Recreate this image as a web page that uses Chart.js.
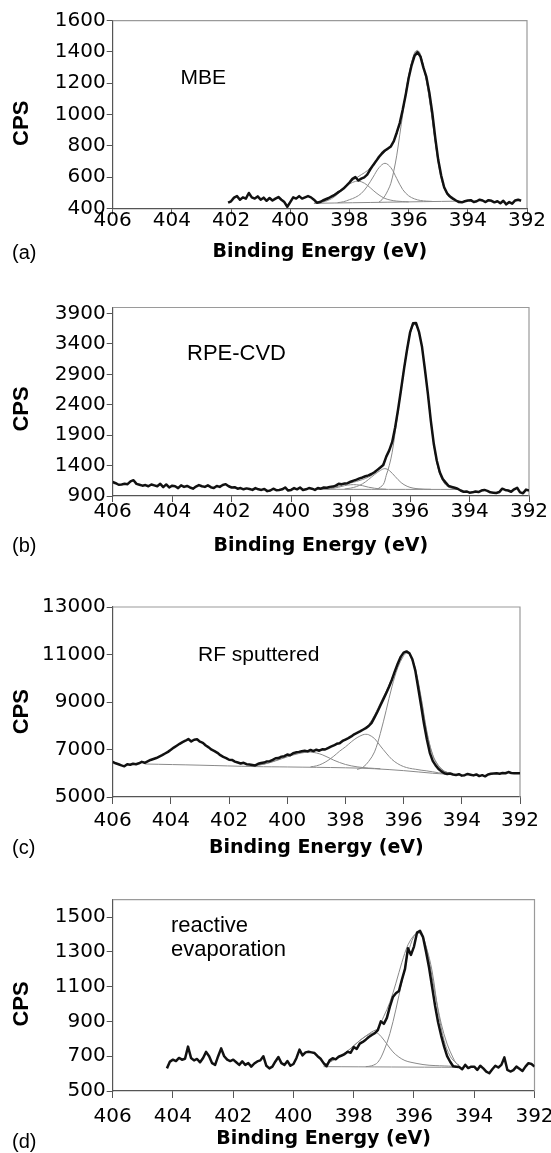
<!DOCTYPE html>
<html><head><meta charset="utf-8">
<script src="https://cdn.jsdelivr.net/npm/chart.js@4/dist/chart.umd.min.js"></script>
<style>
html,body{margin:0;padding:0;background:#fff;}
#wrap{position:relative;width:551px;height:1153px;overflow:hidden;background:#fff;}
canvas{position:absolute;left:0;}
</style></head><body><div id="wrap">
<canvas id="ca" width="551" height="280" style="top:0px"></canvas>
<canvas id="cb" width="551" height="290" style="top:280px"></canvas>
<canvas id="cc" width="551" height="292" style="top:570px"></canvas>
<canvas id="cd" width="551" height="291" style="top:862px"></canvas>
</div>
<script>
// ---------- tick labels ----------
const xTicks = [406,404,402,400,398,396,394,392];
const aTicks = [400,600,800,1000,1200,1400,1600];
const bTicks = [900,1400,1900,2400,2900,3400,3900];
const cTicks = [5000,7000,9000,11000,13000];
const dTicks = [500,700,900,1100,1300,1500];

// ---------- (a) MBE ----------
const aE = [402.1,402.0,401.9,401.8,401.7,401.6,401.5,401.4,401.3,401.2,401.1,401.0,400.9,400.8,400.7,400.6,400.5,400.4,400.3,400.2,400.1,400.0,
399.9,399.8,399.7,399.6,399.5,399.4,399.3,399.2,399.1,399.0,398.9,398.8,398.7,398.6,398.5,398.4,398.3,398.2,398.1,398.0,
397.9,397.8,397.7,397.6,397.5,397.4,397.3,397.2,397.1,397.0,396.9,396.8,396.7,396.6,396.5,396.4,396.3,396.2,396.1,396.0,
395.9,395.8,395.7,395.6,395.5,395.4,395.3,395.2,395.1,395.0,394.9,394.8,394.7,394.6,394.5,394.4,394.3,394.2,394.1,394.0,
393.9,393.8,393.7,393.6,393.5,393.4,393.3,393.2,393.1,393.0,392.9,392.8,392.7,392.6,392.5,392.4,392.3,392.2];
const aV = [436,445,468,478,455,470,462,498,470,462,476,455,468,448,466,450,462,472,455,440,410,440,
470,462,478,462,470,478,470,455,436,440,450,458,466,476,486,500,512,526,545,565,
588,600,578,590,598,615,648,676,702,730,752,770,782,796,830,885,945,1030,1125,1232,
1315,1375,1398,1370,1300,1240,1140,1010,850,710,610,535,496,475,462,450,440,438,445,450,
452,440,445,455,450,440,452,448,438,445,432,448,425,440,430,450,455,448];
const aBgE = [399.15,394.25];
const aBgV = [432,446];
const aP1E = [397.0,396.9,396.8,396.7,396.6,396.5,396.4,396.3,396.2,396.1,396.0,395.9,395.8,395.7,395.6,395.5,395.4,395.3,395.2,395.1,395.0,394.9,394.8,394.7,394.6,394.5,394.4,394.3];
const aP1V = [440,455,480,515,560,640,740,870,1000,1130,1240,1330,1390,1405,1378,1305,1215,1100,965,820,690,590,528,490,468,456,450,447];
const aP2E = [398.4,398.2,398.0,397.8,397.6,397.4,397.2,397.0,396.8,396.6,396.4,396.2,396.0,395.8,395.6,395.4,395.2];
const aP2V = [436,442,455,470,495,540,600,660,688,660,590,520,480,460,450,446,444];
const aP3E = [399.2,399.0,398.8,398.6,398.4,398.2,398.0,397.8,397.6,397.4,397.2,397.0,396.8,396.6,396.4,396.2,396.0];
const aP3V = [432,436,445,462,490,525,555,572,570,548,515,485,463,452,446,443,441];
const aEnvE = [399.2,399.0,398.8,398.6,398.4,398.2,398.0,397.8,397.6,397.4,397.2,397.0,396.8,396.6,396.4,396.2,396.0,395.8,395.7,395.6,395.4,395.2,395.0,394.8,394.6,394.4,394.3];
const aEnvV = [432,440,452,470,496,530,565,590,615,640,680,720,760,800,875,1030,1250,1395,1410,1385,1220,970,700,535,470,452,448];

// ---------- (b) RPE-CVD ----------
const bE = [406.0,405.9,405.8,405.7,405.6,405.5,405.4,405.3,405.2,405.1,405.0,404.9,404.8,404.7,404.6,404.5,404.4,404.3,404.2,404.1,
404.0,403.9,403.8,403.7,403.6,403.5,403.4,403.3,403.2,403.1,403.0,402.9,402.8,402.7,402.6,402.5,402.4,402.3,402.2,402.1,
402.0,401.9,401.8,401.7,401.6,401.5,401.4,401.3,401.2,401.1,401.0,400.9,400.8,400.7,400.6,400.5,400.4,400.3,400.2,400.1,
400.0,399.9,399.8,399.7,399.6,399.5,399.4,399.3,399.2,399.1,399.0,398.9,398.8,398.7,398.6,398.5,398.4,398.3,398.2,398.1,
398.0,397.9,397.8,397.7,397.6,397.5,397.4,397.3,397.2,397.1,397.0,396.9,396.8,396.7,396.6,396.5,396.4,396.3,396.2,396.1,
396.0,395.9,395.8,395.7,395.6,395.5,395.4,395.3,395.2,395.1,395.0,394.9,394.8,394.7,394.6,394.5,394.4,394.3,394.2,394.1,
394.0,393.9,393.8,393.7,393.6,393.5,393.4,393.3,393.2,393.1,393.0,392.9,392.8,392.7,392.6,392.5,392.4,392.3,392.2,392.1,392.0];
const bV = [1130,1110,1085,1090,1100,1095,1140,1160,1100,1085,1070,1080,1060,1090,1075,1060,1100,1045,1090,1040,
1070,1060,1030,1075,1050,1065,1040,1020,1055,1080,1060,1050,1075,1045,1030,1065,1050,1080,1095,1060,
1040,1045,1020,1030,1010,1025,1015,1000,1030,1010,1000,1015,980,990,1020,995,1000,1010,1040,990,
1000,1030,1010,1040,1000,1010,1030,1020,1000,1030,1020,1040,1035,1050,1055,1070,1100,1095,1105,1110,
1135,1152,1170,1190,1205,1225,1240,1262,1290,1330,1370,1410,1547,1650,1790,2030,2330,2660,3000,3310,
3590,3740,3745,3600,3360,2980,2580,2130,1750,1480,1290,1180,1120,1065,1050,1035,1020,990,970,975,
955,960,975,965,990,1000,985,960,955,950,965,1020,1000,990,970,1010,1035,960,945,1005,990];
const bBgE = [399.1,394.35];
const bBgV = [1010,1008];
const bP1E = [397.1,396.9,396.8,396.7,396.6,396.5,396.4,396.3,396.2,396.1,396.0,395.9,395.85,395.8,395.7,395.6,395.5,395.4,395.3,395.2,395.1,395.0,394.9,394.8,394.7,394.6,394.5,394.4];
const bP1V = [1012,1090,1240,1400,1620,1950,2300,2650,3000,3310,3560,3700,3720,3710,3590,3350,2980,2560,2120,1740,1450,1260,1150,1080,1045,1025,1015,1010];
const bP2E = [398.2,398.0,397.8,397.6,397.4,397.2,397.0,396.85,396.7,396.5,396.3,396.1,395.9,395.7,395.5,395.3];
const bP2V = [1015,1030,1055,1100,1170,1250,1320,1350,1320,1220,1120,1060,1030,1018,1012,1010];
const bP3E = [398.8,398.6,398.4,398.2,398.0,397.8,397.6,397.4,397.2,397.0,396.8];
const bP3V = [1012,1025,1045,1070,1085,1085,1070,1045,1028,1016,1011];
const bEnvE = [399.1,398.8,398.6,398.4,398.2,398.0,397.8,397.6,397.4,397.2,397.0,396.8,396.6,396.4,396.2,396.0,395.85,395.7,395.5,395.3,395.1,394.9,394.7,394.5,394.35];
const bEnvV = [1012,1020,1035,1060,1090,1115,1140,1170,1210,1270,1360,1540,1800,2320,3020,3580,3725,3600,2990,2130,1460,1160,1055,1020,1010];

// ---------- (c) RF sputtered ----------
const cE = bE;
const cV = [6480,6420,6380,6330,6290,6380,6360,6400,6380,6420,6480,6440,6500,6560,6600,6640,6700,6760,6830,6900,
6990,7080,7160,7240,7310,7370,7440,7340,7410,7430,7330,7280,7170,7090,6990,6930,6860,6760,6690,6640,
6570,6560,6490,6450,6410,6440,6380,6370,6350,6330,6400,6430,6450,6500,6510,6560,6630,6640,6700,6720,
6790,6760,6840,6880,6900,6930,6950,6920,6980,6930,6990,6950,7010,7000,7060,7120,7170,7240,7260,7360,
7420,7480,7550,7640,7700,7760,7830,7900,7990,8120,8350,8590,8850,9110,9370,9640,9950,10300,10620,10900,
11080,11130,11050,10800,10330,9600,8850,8080,7420,6860,6520,6330,6180,6080,6000,5970,5990,5950,5930,5960,
5900,5920,5970,5940,5910,5950,5880,5920,5870,5950,5980,5990,6000,5980,6010,6000,6050,6010,6000,6005,6000];
const cBgE = [404.9,403.0,401.1,400.0,398.0,397.0,396.0,395.0,394.55];
const cBgV = [6390,6340,6280,6265,6230,6190,6110,6000,5965];
const cP1E = [397.6,397.4,397.2,397.0,396.8,396.6,396.4,396.2,396.0,395.9,395.8,395.6,395.4,395.2,395.0,394.8,394.6,394.4,394.3];
const cP1V = [6160,6250,6500,6900,7680,8650,9650,10450,10950,11050,11000,10350,9150,7700,6750,6300,6080,5995,5985];
const cP2E = [399.2,399.0,398.8,398.6,398.4,398.2,398.0,397.8,397.6,397.4,397.3,397.2,397.0,396.8,396.6,396.4,396.2,396.0,395.8,395.6,395.4,395.2,395.0,394.8,394.6];
const cP2V = [6270,6310,6400,6540,6720,6930,7110,7320,7500,7620,7640,7620,7460,7150,6850,6580,6400,6280,6210,6170,6130,6100,6060,6020,5990];
const cP3E = [401.2,400.8,400.4,400.0,399.6,399.2,398.8,398.4,398.0,397.6,397.2,396.8];
const cP3V = [6310,6380,6520,6690,6830,6890,6780,6550,6370,6270,6220,6190];
const cEnvE = [401.2,400.8,400.4,400.0,399.6,399.2,398.8,398.4,398.0,397.6,397.2,396.8,396.4,396.1,395.95,395.8,395.6,395.4,395.2,395.0,394.8,394.6,394.4];
const cEnvV = [6310,6390,6540,6720,6860,6940,7000,7160,7400,7690,8050,8950,10000,10900,11080,11020,10420,9200,7750,6780,6320,6090,6000];

// ---------- (d) reactive evaporation ----------
const dE = bE.slice(18);
const dV = [630,669,680,672,690,680,685,755,690,676,684,665,690,725,700,660,650,700,745,700,
680,672,680,665,650,670,650,660,640,658,670,676,700,645,630,640,670,695,660,650,
672,645,655,690,738,705,722,726,722,718,700,685,660,642,676,688,682,697,704,712,
725,720,752,742,772,782,795,810,822,832,850,900,886,920,985,1040,1062,1075,1140,1200,
1320,1282,1330,1410,1420,1385,1300,1210,1100,990,895,820,755,700,668,642,640,638,625,650,
632,640,640,621,645,630,611,602,625,645,635,650,693,621,612,620,640,628,615,640,660,655,640];
const dBgE = [399.0,394.5];
const dBgV = [640,636];
const dP1E = [397.6,397.4,397.2,397.0,396.8,396.6,396.4,396.2,396.0,395.85,395.7,395.5,395.3,395.1,394.9,394.7,394.6,394.5];
const dP1V = [640,645,665,730,830,970,1130,1290,1390,1410,1390,1250,1060,890,770,690,660,645];
const dP2E = [399.0,398.8,398.6,398.4,398.2,398.0,397.8,397.6,397.4,397.25,397.1,396.9,396.7,396.5,396.3,396.1,395.9,395.7,395.5,395.3,395.0,394.7,394.5];
const dP2V = [650,665,685,705,730,760,790,815,832,835,815,770,725,695,675,665,658,652,648,646,644,642,641];
const dEnvE = [399.0,398.6,398.2,397.8,397.4,397.2,397.0,396.8,396.6,396.4,396.2,396.0,395.9,395.8,395.6,395.4,395.2,395.0,394.8,394.6,394.5];
const dEnvV = [650,685,730,790,840,860,930,1010,1120,1240,1340,1395,1405,1405,1330,1190,960,790,700,660,648];

// ---------- drawing ----------
const pts = (E, V) => E.map((e, i) => ({x: e, y: V[i]}));

const deco = {
  id: 'deco',
  beforeDatasetsDraw(chart) {
    const {ctx, chartArea: a} = chart;
    ctx.save();
    ctx.strokeStyle = '#9a9a9a'; ctx.lineWidth = 1.2;
    ctx.beginPath();
    ctx.moveTo(a.left, a.top); ctx.lineTo(a.right, a.top); ctx.lineTo(a.right, a.bottom);
    ctx.stroke();
    ctx.restore();
  },
  afterDraw(chart, args, o) {
    const ctx = chart.ctx;
    ctx.save();
    ctx.fillStyle = '#000';
    ctx.textAlign = 'left'; ctx.textBaseline = 'alphabetic';
    ctx.font = o.noteSize + 'px "Liberation Sans", Arial, sans-serif';
    o.note.forEach((t, i) => ctx.fillText(t, o.noteX, o.noteY + i * 24));
    ctx.font = '20px "Liberation Sans", Arial, sans-serif';
    ctx.textBaseline = 'middle';
    ctx.fillText(o.letter, 12, o.letterY);
    ctx.translate(22, o.cpsY); ctx.rotate(-Math.PI / 2);
    ctx.font = 'bold 22px "Liberation Sans", Arial, sans-serif';
    ctx.textAlign = 'center';
    ctx.fillText('CPS', 0, 0);
    ctx.restore();
  }
};

function panel(id, p) {
  const canvas = document.getElementById(id);
  const H = canvas.height;
  const ds = [{data: pts(p.E, p.V), borderColor: '#111', borderWidth: 2.5, pointRadius: 0, tension: 0, borderJoinStyle: 'round'}];
  p.fits.forEach(f => ds.push({data: pts(f[0], f[1]), borderColor: '#8a8a8a', borderWidth: 1, pointRadius: 0, tension: 0.35}));
  const tickFont = {family: '"DejaVu Sans", sans-serif', size: 20, lineHeight: 1.2};
  new Chart(canvas, {
    type: 'line',
    data: {datasets: ds},
    plugins: [deco],
    options: {
      responsive: false, animation: false, devicePixelRatio: 1,
      layout: {padding: {top: p.top, right: 551 - p.right, left: 0, bottom: 0}},
      plugins: {legend: {display: false}, tooltip: {enabled: false},
        deco: {note: p.note, noteX: p.noteX, noteY: p.noteY, noteSize: p.noteSize, letter: p.letter, letterY: p.letterY, cpsY: p.cpsY}},
      scales: {
        x: {
          type: 'linear', reverse: true, min: 392, max: 406,
          afterBuildTicks: s => { s.ticks = xTicks.map(v => ({value: v})); },
          afterFit: s => { s.height = H - p.bottom; s.paddingLeft = 0; s.paddingRight = 0; },
          ticks: {callback: v => String(v), font: tickFont, color: '#000', padding: p.xPad, maxRotation: 0, autoSkip: false},
          grid: {drawOnChartArea: false, drawTicks: true, tickLength: p.xTick, color: '#555', tickWidth: 1},
          border: {display: true, color: '#555', width: 1.2},
          title: {display: true, text: 'Binding Energy (eV)', color: '#000',
                  font: {family: '"DejaVu Sans", sans-serif', size: 19, weight: 'bold', lineHeight: 1.2},
                  padding: {top: 0, bottom: H - p.titleY - 11.4}}
        },
        y: {
          type: 'linear', min: p.min, max: p.max,
          afterBuildTicks: s => { s.ticks = p.ticks.map(v => ({value: v})); },
          afterFit: s => { s.width = 112.7; s.paddingTop = 0; s.paddingBottom = 0; },
          ticks: {callback: v => String(v), font: tickFont, color: '#000', padding: 1},
          grid: {drawOnChartArea: false, drawTicks: true, tickLength: 6, color: '#555', tickWidth: 1},
          border: {display: true, color: '#555', width: 1.2}
        }
      }
    }
  });
}

panel('ca', {E: aE, V: aV, fits: [[aBgE, aBgV], [aP3E, aP3V], [aP2E, aP2V], [aP1E, aP1V], [aEnvE, aEnvV]],
  min: 400, max: 1600, ticks: aTicks, top: 20.7, right: 527, bottom: 208.3, xPad: -5.6, xTick: 6, titleY: 252.5,
  note: ['MBE'], noteX: 180.6, noteY: 83.5, noteSize: 21, letter: '(a)', letterY: 253, cpsY: 123.3});
panel('cb', {E: bE, V: bV, fits: [[bBgE, bBgV], [bP3E, bP3V], [bP2E, bP2V], [bP1E, bP1V], [bEnvE, bEnvV]],
  min: 900, max: 4000, ticks: bTicks, top: 27.5, right: 529, bottom: 216, xPad: -2.4, xTick: 6, titleY: 266.5,
  note: ['RPE-CVD'], noteX: 187, noteY: 80, noteSize: 22, letter: '(b)', letterY: 266.5, cpsY: 129});
panel('cc', {E: cE, V: cV, fits: [[cBgE, cBgV], [cP3E, cP3V], [cP2E, cP2V], [cP1E, cP1V], [cEnvE, cEnvV]],
  min: 5000, max: 13000, ticks: cTicks, top: 37, right: 520, bottom: 227, xPad: 5, xTick: 7, titleY: 278,
  note: ['RF sputtered'], noteX: 198, noteY: 91, noteSize: 21, letter: '(c)', letterY: 278, cpsY: 141.7});
panel('cd', {E: dE, V: dV, fits: [[dBgE, dBgV], [dP2E, dP2V], [dP1E, dP1V], [dEnvE, dEnvV]],
  min: 500, max: 1600, ticks: dTicks, top: 37.6, right: 534.5, bottom: 229, xPad: 6.9, xTick: 7, titleY: 277.5,
  note: ['reactive', 'evaporation'], noteX: 171, noteY: 70, noteSize: 22, letter: '(d)', letterY: 280, cpsY: 142});
</script>
</body></html>
